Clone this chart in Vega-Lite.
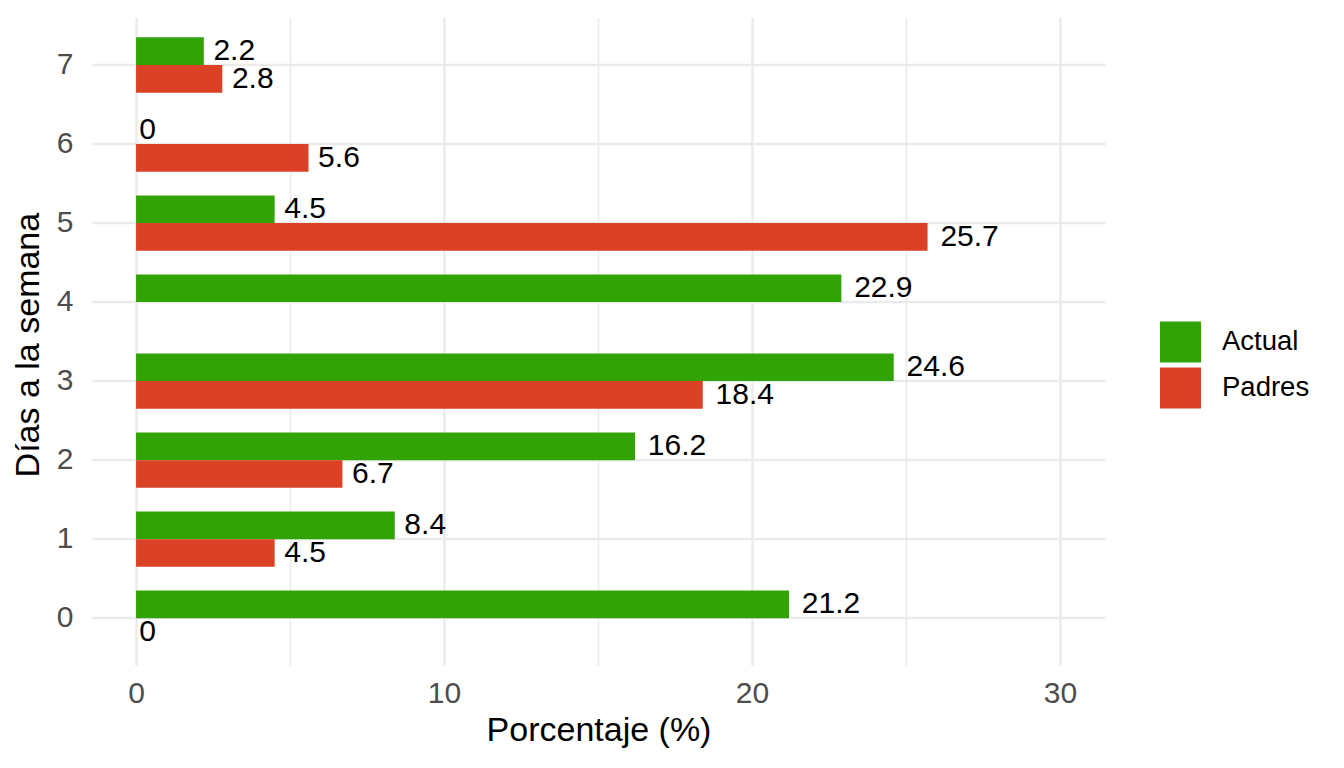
{
  "$schema": "https://vega.github.io/schema/vega-lite/v6.json",
  "width": 1013,
  "height": 648,
  "autosize": {"type": "none"},
  "padding": {"left": 92, "top": 17.6, "right": 239, "bottom": 102.4},
  "background": "white",
  "config": {
    "view": {"stroke": null},
    "font": "Liberation Sans"
  },
  "data": {
    "values": [
      {"dia": 0, "grupo": "Actual", "valor": 21.2},
      {"dia": 1, "grupo": "Actual", "valor": 8.4},
      {"dia": 2, "grupo": "Actual", "valor": 16.2},
      {"dia": 3, "grupo": "Actual", "valor": 24.6},
      {"dia": 4, "grupo": "Actual", "valor": 22.9},
      {"dia": 5, "grupo": "Actual", "valor": 4.5},
      {"dia": 6, "grupo": "Actual", "valor": 0},
      {"dia": 7, "grupo": "Actual", "valor": 2.2},
      {"dia": 0, "grupo": "Padres", "valor": 0},
      {"dia": 1, "grupo": "Padres", "valor": 4.5},
      {"dia": 2, "grupo": "Padres", "valor": 6.7},
      {"dia": 3, "grupo": "Padres", "valor": 18.4},
      {"dia": 5, "grupo": "Padres", "valor": 25.7},
      {"dia": 6, "grupo": "Padres", "valor": 5.6},
      {"dia": 7, "grupo": "Padres", "valor": 2.8}
    ]
  },
  "encoding": {
    "y": {
      "field": "dia",
      "type": "ordinal",
      "sort": "descending",
      "scale": {"paddingInner": 0.3, "paddingOuter": 0.25},
      "axis": {
        "title": "Días a la semana",
        "titleFontSize": 34,
        "titleFontWeight": "normal",
        "titleColor": "black",
        "titleAngle": 270,
        "titleAlign": "center",
        "titleBaseline": "middle",
        "titleX": -64,
        "titleY": 327,
        "labelFontSize": 30,
        "labelColor": "#4D4D4D",
        "labelPadding": 19,
        "labelBaseline": "middle",
        "domain": false,
        "ticks": false,
        "grid": true,
        "bandPosition": 0.5,
        "gridColor": "#EBEBEB",
        "gridWidth": 2.5
      }
    },
    "yOffset": {
      "field": "grupo",
      "type": "nominal",
      "scale": {"domain": ["Actual", "Padres"], "paddingInner": 0, "paddingOuter": 0}
    },
    "x": {
      "field": "valor",
      "type": "quantitative",
      "scale": {"domain": [-1.43, 31.46], "nice": false, "zero": false},
      "axis": {
        "title": "Porcentaje (%)",
        "titleFontSize": 34,
        "titleFontWeight": "normal",
        "titleColor": "black",
        "titleBaseline": "alphabetic",
        "titleY": 74.4,
        "values": [0, 5, 10, 15, 20, 25, 30],
        "labelExpr": "datum.value % 10 === 0 ? datum.label : ''",
        "labelFontSize": 30,
        "labelColor": "#4D4D4D",
        "labelPadding": 13,
        "domain": false,
        "ticks": false,
        "grid": true,
        "gridColor": "#EBEBEB",
        "gridWidth": {"condition": {"test": "datum.value % 10 === 0", "value": 2.5}, "value": 1.6}
      }
    }
  },
  "layer": [
    {
      "mark": {"type": "bar"},
      "encoding": {
        "color": {
          "field": "grupo",
          "type": "nominal",
          "scale": {"domain": ["Actual", "Padres"], "range": ["#31A305", "#DB4125"]},
          "legend": {
            "title": null,
            "orient": "none",
            "legendX": 1068,
            "legendY": 304,
            "padding": 0,
            "symbolType": "square",
            "symbolSize": 1681,
            "symbolStrokeWidth": 0,
            "symbolOpacity": 1,
            "labelFontSize": 27.5,
            "labelColor": "black",
            "labelOffset": 21,
            "rowPadding": 5
          }
        }
      }
    },
    {
      "mark": {
        "type": "text",
        "align": "left",
        "baseline": "middle",
        "fontSize": 30,
        "color": "black",
        "dx": {"expr": "length(toString(datum.valor)) * 3.2"}
      },
      "encoding": {
        "text": {"field": "valor", "type": "quantitative"}
      }
    }
  ]
}
